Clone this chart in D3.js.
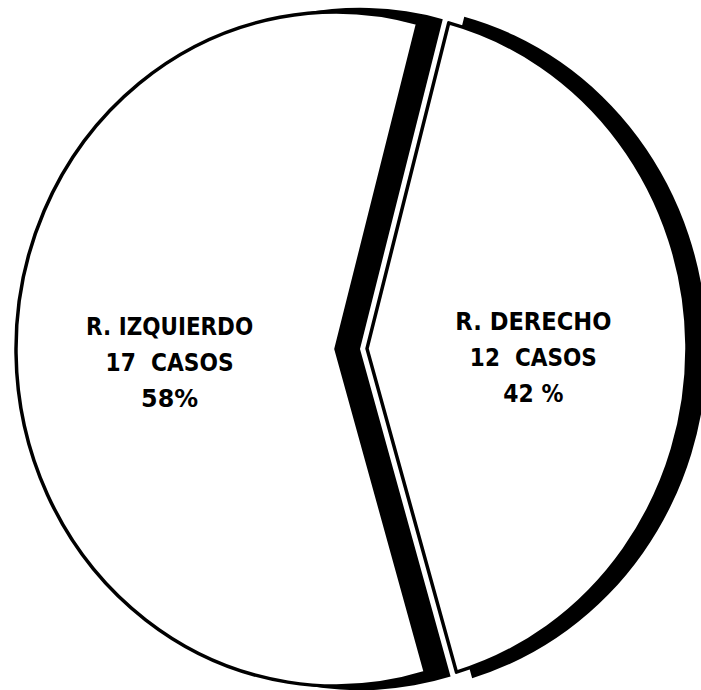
<!DOCTYPE html>
<html>
<head>
<meta charset="utf-8">
<script src="https://cdn.jsdelivr.net/npm/d3@7"></script>
<style>
  body { margin: 0; background: #fff; }
  text { font-family: "DejaVu Sans", sans-serif; fill: #000; white-space: pre; }
</style>
</head>
<body>
<svg id="chart"></svg>
<script>
// datos de la figura
var nombres = ["R. DERECHO", "R. IZQUIERDO"];
var casos = [12, 17];
var porcentajes = ["42 %", "58%"];
var casos_txt = ["12  CASOS", "17  CASOS"];

var width = 701, height = 690;
var cx = 336, cy = 349, radius = 320, sy = 1.053;
var start = 14.8 * Math.PI / 180;
var explode = [31, 0];
var sombra = [{dx: 14, dr: 6}, {dx: 24, dr: 4}];
// ancho de cada rotulo (para imitar la letra estrecha del dibujo)
var anchos = [[156, 127, 60], [167, 128, 57]];
var lineas_dy = [-16, 20, 56];

var svg = d3.select("#chart").attr("width", width).attr("height", height);
svg.append("rect").attr("width", width).attr("height", height).attr("fill", "#fff");

var pie = d3.pie()
    .sort(null)
    .startAngle(start)
    .endAngle(start + 2 * Math.PI)
    .value(function(d) { return d; });

var arcs = pie(casos);

var path = d3.arc().innerRadius(0).outerRadius(radius);
var label = d3.arc().innerRadius(radius * 0.52).outerRadius(radius * 0.52);

arcs.forEach(function(d, i) {
    var mid = (d.startAngle + d.endAngle) / 2;
    var ox = Math.sin(mid) * explode[i], oy = -Math.cos(mid) * explode[i];
    var g = svg.append("g")
        .attr("transform", "translate(" + (cx + ox) + "," + (cy + oy) + ")");

    // sombra negra
    var arcSombra = d3.arc().innerRadius(0).outerRadius(radius + sombra[i].dr);
    g.append("path")
        .attr("d", arcSombra(d))
        .attr("transform", "translate(" + sombra[i].dx + ",0) scale(1," + sy + ")")
        .attr("fill", "#000");

    // sector
    g.append("path")
        .attr("d", path(d))
        .attr("transform", "scale(1," + sy + ")")
        .attr("fill", "#fff")
        .attr("stroke", "#000")
        .attr("stroke-width", 3.5)
        .attr("stroke-linejoin", "round")
        .attr("vector-effect", "non-scaling-stroke");

    var c = label.centroid(d);
    var textos = [nombres[i], casos_txt[i], porcentajes[i]];
    textos.forEach(function(t, j) {
        g.append("text")
            .attr("x", c[0])
            .attr("y", c[1] * sy + lineas_dy[j])
            .attr("text-anchor", "middle")
            .attr("textLength", anchos[i][j])
            .attr("lengthAdjust", "spacingAndGlyphs")
            .style("font-size", "24px")
            .style("font-weight", "bold")
            .text(t);
    });
});
</script>
</body>
</html>
